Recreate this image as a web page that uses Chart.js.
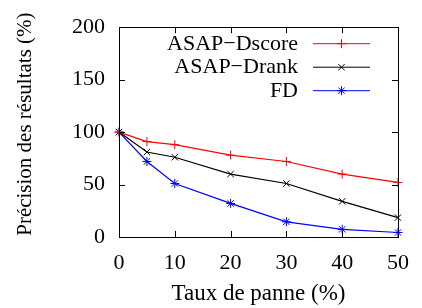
<!DOCTYPE html>
<html>
<head>
<meta charset="utf-8">
<script src="https://cdn.jsdelivr.net/npm/chart.js@4.4.1/dist/chart.umd.min.js"></script>
<style>
    html, body { margin: 0; padding: 0; background: #fff; }
    #wrap { width: 422px; height: 308px; }
</style>
</head>
<body>
<div id="wrap"><canvas id="c" width="422" height="308"></canvas></div>
<script>
    // ===== DATA =====
    const failRates = [0, 5, 10, 20, 30, 40, 50];
    const dscore = [100, 91, 88, 78, 72, 60, 52];
    const drank = [100, 81, 76, 60, 51, 34, 18.5];
    const fd = [100, 72, 51, 32, 14.5, 7.3, 4.3];
    const seriesNames = ['ASAP\u2212Dscore', 'ASAP\u2212Drank', 'FD'];
    const xTicks = [0, 10, 20, 30, 40, 50];
    const yTicks = [0, 50, 100, 150, 200];
    const xTitle = 'Taux de panne (%)';
    const yTitle = 'Précision des résultats (%)';

    const FONT = 'Liberation Serif, DejaVu Serif, serif';

    // ===== FRAME: box + inward mirrored ticks =====
    const framePlugin = {
        id: 'frame',
        afterDraw(chart) {
            const ctx = chart.ctx;
            const a = chart.chartArea;
            const xs = chart.scales.x, ys = chart.scales.y;
            const len = 6;
            ctx.save();
            ctx.strokeStyle = '#000';
            ctx.lineWidth = 1;
            ctx.beginPath();
            xTicks.forEach(v => {
                const px = Math.round(xs.getPixelForValue(v)) + 0.5;
                ctx.moveTo(px, a.bottom); ctx.lineTo(px, a.bottom - len);
                ctx.moveTo(px, a.top); ctx.lineTo(px, a.top + len);
            });
            yTicks.forEach(v => {
                const py = Math.round(ys.getPixelForValue(v)) + 0.5;
                ctx.moveTo(a.left, py); ctx.lineTo(a.left + len, py);
                ctx.moveTo(a.right, py); ctx.lineTo(a.right - len, py);
            });
            ctx.stroke();
            ctx.strokeRect(Math.round(a.left) + 0.5, Math.round(a.top) + 0.5,
                Math.round(a.right - a.left), Math.round(a.bottom - a.top));

            // y axis title, slightly above the plot centre like gnuplot
            ctx.translate(25, (a.top + a.bottom) / 2 - 8);
            ctx.rotate(-Math.PI / 2);
            ctx.font = '21px ' + FONT;
            ctx.fillStyle = '#000';
            ctx.textAlign = 'center';
            ctx.textBaseline = 'middle';
            ctx.fillText(yTitle, 0, 0);
            ctx.restore();
        }
    };

    // ===== LEGEND inside, gnuplot style =====
    const keyPlugin = {
        id: 'key',
        afterDatasetsDraw(chart) {
            const ctx = chart.ctx;
            const a = chart.chartArea;
            const textRight = a.right - 100;
            const lineL = a.right - 85, lineR = a.right - 28;
            ctx.save();
            ctx.font = '22px ' + FONT;
            ctx.textAlign = 'right';
            ctx.textBaseline = 'middle';
            chart.data.datasets.forEach((ds, i) => {
                const y = a.top + 16 + i * 23.5;
                ctx.fillStyle = '#000';
                ctx.fillText(ds.label, textRight, y + 1);
                ctx.strokeStyle = ds.borderColor;
                ctx.lineWidth = 1;
                ctx.beginPath();
                ctx.moveTo(lineL, y + 0.5); ctx.lineTo(lineR, y + 0.5);
                ctx.stroke();
                Chart.helpers.drawPoint(ctx, {
                    pointStyle: ds.pointStyle, radius: ds.pointRadius,
                    rotation: 0, borderWidth: 1
                }, (lineL + lineR) / 2, y + 0.5);
            });
            ctx.restore();
        }
    };

    function makeSet(label, data, color, style) {
        return {
            label: label,
            data: data.map((v, i) => ({ x: failRates[i], y: v })),
            borderColor: color,
            backgroundColor: color,
            borderWidth: 1.2,
            pointStyle: style,
            pointRadius: 4.5,
            pointBorderWidth: 1,
            tension: 0,
            clip: false
        };
    }

    new Chart(document.getElementById('c'), {
        type: 'line',
        data: {
            datasets: [
                makeSet(seriesNames[0], dscore, '#ff0000', 'cross'),
                makeSet(seriesNames[1], drank, '#000000', 'crossRot'),
                makeSet(seriesNames[2], fd, '#0000ff', 'star')
            ]
        },
        options: {
            responsive: false,
            animation: false,
            layout: { padding: { top: 17, right: 15, left: 0, bottom: 0 } },
            plugins: { legend: { display: false }, tooltip: { enabled: false } },
            scales: {
                x: {
                    type: 'linear', min: 0, max: 50,
                    afterBuildTicks: s => { s.ticks = xTicks.map(v => ({ value: v })); },
                    afterFit: s => { s.height = 71; },
                    grid: { display: false, drawTicks: false },
                    border: { display: false },
                    ticks: { color: '#000', padding: 13, font: { family: FONT, size: 22 } },
                    title: {
                        display: true, text: xTitle, color: '#000',
                        padding: { top: 0, bottom: 0 }, font: { family: FONT, size: 23 }
                    }
                },
                y: {
                    type: 'linear', min: 0, max: 200,
                    afterBuildTicks: s => { s.ticks = yTicks.map(v => ({ value: v })); },
                    afterFit: s => { s.width = 119; },
                    grid: { display: false, drawTicks: false },
                    border: { display: false },
                    ticks: { color: '#000', padding: 14, font: { family: FONT, size: 22 } },
                    title: { display: false }
                }
            }
        },
        plugins: [framePlugin, keyPlugin]
    });
</script>
</body>
</html>
